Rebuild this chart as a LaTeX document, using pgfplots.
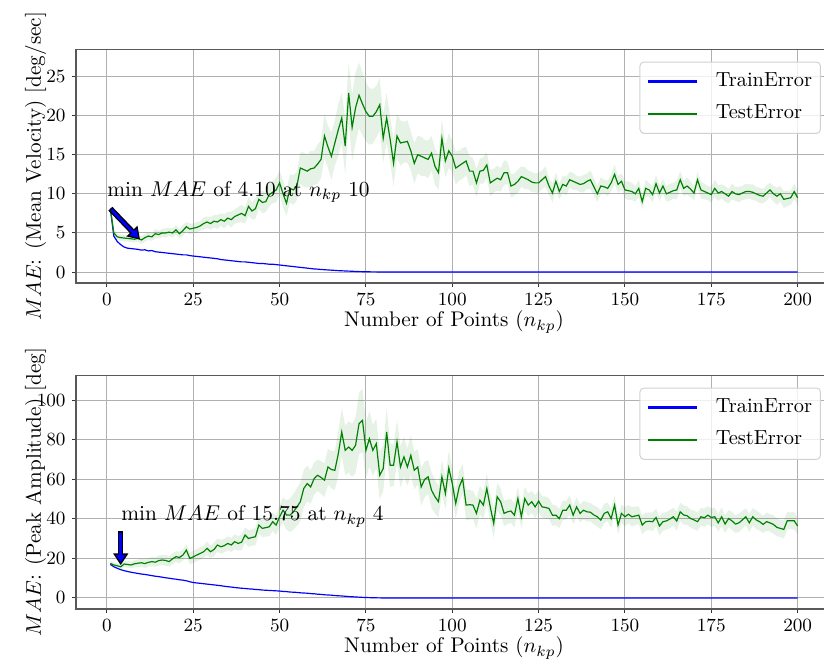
\RequirePackage{fix-cm}
\documentclass[border=0pt]{standalone}
\usepackage{pgfplots}
\pgfplotsset{compat=1.18}
\usepackage{pgfplotstable}
\usepgfplotslibrary{fillbetween}
\usetikzlibrary{arrows.meta}
\definecolor{mplgreen}{rgb}{0,0.5,0}
\definecolor{gridgray}{HTML}{B0B0B0}

\pgfplotstableread[row sep=\\]{
x R T S\\
1 8.10 8.10 0.3\\ 2 4.60 5.00 0.4\\ 3 3.90 4.50 0.4\\ 4 3.50 4.40 0.4\\ 5 3.20 4.35 0.4\\
6 3.05 4.30 0.4\\ 7 3.00 4.25 0.4\\ 8 2.95 4.20 0.4\\ 9 2.90 4.30 0.4\\ 10 2.80 4.10 0.5\\
11 2.85 4.40 0.5\\ 12 2.70 4.60 0.5\\ 13 2.75 4.50 0.5\\ 14 2.60 4.90 0.6\\ 15 2.55 4.80 0.5\\
16 2.50 5.00 0.5\\ 17 2.45 5.00 0.6\\ 18 2.40 5.10 0.5\\ 19 2.35 5.00 0.6\\ 20 2.30 5.40 0.6\\
21 2.25 4.90 0.6\\ 22 2.20 5.30 0.7\\ 23 2.20 5.80 0.6\\ 24 2.10 5.50 0.7\\ 25 2.05 5.60 0.6\\
26 2.00 5.70 0.7\\ 27 1.95 5.90 0.6\\ 28 1.90 6.20 0.8\\ 29 1.85 6.40 0.7\\ 30 1.80 6.20 0.8\\
31 1.75 6.50 0.8\\ 32 1.70 6.40 0.9\\ 33 1.60 6.70 0.8\\ 34 1.55 6.50 0.9\\ 35 1.50 6.90 0.8\\
36 1.45 6.70 1.0\\ 37 1.40 7.10 0.9\\ 38 1.35 7.30 1.0\\ 39 1.30 7.50 1.1\\ 40 1.30 7.20 1.0\\
41 1.25 8.40 1.2\\ 42 1.20 7.80 1.1\\ 43 1.15 8.10 1.3\\ 44 1.10 9.30 1.2\\ 45 1.10 8.90 1.4\\
46 1.05 9.00 1.3\\ 47 1.00 9.90 1.5\\ 48 1.00 10.20 1.4\\ 49 0.95 10.50 1.6\\ 50 0.90 11.40 1.5\\
51 0.85 10.00 1.7\\ 52 0.80 8.80 1.6\\ 53 0.75 10.70 1.8\\ 54 0.70 10.50 1.9\\ 55 0.65 11.00 1.8\\
56 0.60 13.30 2.0\\ 57 0.55 13.10 2.2\\ 58 0.50 12.90 2.1\\ 59 0.45 13.20 2.3\\ 60 0.40 13.30 2.2\\
61 0.37 13.80 2.5\\ 62 0.33 14.40 2.4\\ 63 0.30 17.40 2.8\\ 64 0.27 16.00 2.7\\ 65 0.24 14.80 3.0\\
66 0.21 16.50 2.9\\ 67 0.18 18.20 3.3\\ 68 0.16 19.70 3.2\\ 69 0.14 16.10 3.6\\ 70 0.12 22.90 3.8\\
71 0.10 18.50 4.2\\ 72 0.08 21.00 4.5\\ 73 0.06 22.60 4.2\\ 74 0.05 21.50 4.0\\ 75 0.04 20.50 3.8\\
76 0.03 19.90 3.6\\ 77 0.02 19.90 3.5\\ 78 0.02 20.50 3.3\\ 79 0.01 21.40 3.4\\ 80 0.00 17.10 3.1\\
81 0 19.70 3.2\\ 82 0 17.00 2.9\\ 83 0 13.90 3.0\\ 84 0 17.40 2.8\\ 85 0 16.50 2.9\\
86 0 16.60 2.6\\ 87 0 16.70 2.7\\ 88 0 15.50 2.5\\ 89 0 13.90 2.6\\ 90 0 15.00 2.4\\
91 0 14.80 2.5\\ 92 0 14.60 2.3\\ 93 0 14.40 2.4\\ 94 0 15.20 2.2\\ 95 0 13.50 2.3\\
96 0 12.70 2.2\\ 97 0 17.10 2.4\\ 98 0 14.20 2.1\\ 99 0 15.50 2.2\\ 100 0 14.80 2.0\\
101 0 13.30 2.1\\ 102 0 13.60 1.9\\ 103 0 13.90 2.0\\ 104 0 14.20 1.8\\ 105 0 12.90 1.9\\
106 0 12.90 1.7\\ 107 0 11.40 1.8\\ 108 0 12.90 1.6\\ 109 0 13.00 1.7\\ 110 0 13.70 1.6\\
111 0 11.40 1.7\\ 112 0 11.70 1.5\\ 113 0 12.00 1.6\\ 114 0 11.80 1.5\\ 115 0 12.70 1.6\\
116 0 12.70 1.4\\ 117 0 11.00 1.5\\ 118 0 11.20 1.4\\ 119 0 11.60 1.5\\ 120 0 12.20 1.3\\
121 0 12.00 1.4\\ 122 0 11.80 1.2\\ 123 0 11.50 1.3\\ 124 0 11.40 1.2\\ 125 0 11.40 1.3\\
126 0 11.80 1.2\\ 127 0 12.20 1.3\\ 128 0 11.00 1.1\\ 129 0 10.10 1.2\\ 130 0 11.60 1.1\\
131 0 10.30 1.0\\ 132 0 11.20 1.1\\ 133 0 11.00 1.2\\ 134 0 11.80 1.0\\ 135 0 11.60 1.1\\
136 0 11.40 0.9\\ 137 0 11.20 1.0\\ 138 0 11.30 1.1\\ 139 0 11.60 1.0\\ 140 0 11.80 1.2\\
141 0 10.90 1.1\\ 142 0 10.00 1.0\\ 143 0 11.00 1.1\\ 144 0 10.90 0.9\\ 145 0 10.70 1.0\\
146 0 11.40 1.1\\ 147 0 12.50 1.2\\ 148 0 11.20 1.1\\ 149 0 11.60 1.0\\ 150 0 10.50 1.1\\
151 0 10.40 1.2\\ 152 0 10.30 1.1\\ 153 0 10.00 1.0\\ 154 0 10.70 1.1\\ 155 0 9.00 1.0\\
156 0 10.70 1.1\\ 157 0 10.50 0.9\\ 158 0 9.90 1.0\\ 159 0 11.30 1.1\\ 160 0 10.10 1.0\\
161 0 11.00 0.9\\ 162 0 10.00 1.0\\ 163 0 10.20 1.1\\ 164 0 10.40 1.0\\ 165 0 10.50 1.2\\
166 0 11.80 1.1\\ 167 0 10.70 1.0\\ 168 0 11.00 1.1\\ 169 0 10.60 1.0\\ 170 0 10.10 0.9\\
171 0 11.80 1.0\\ 172 0 10.50 1.1\\ 173 0 10.30 1.0\\ 174 0 10.10 0.9\\ 175 0 9.90 1.0\\
176 0 10.70 1.1\\ 177 0 10.10 1.0\\ 178 0 10.30 0.9\\ 179 0 10.00 1.0\\ 180 0 9.70 0.9\\
181 0 10.30 1.0\\ 182 0 10.00 0.9\\ 183 0 9.90 1.0\\ 184 0 10.10 0.9\\ 185 0 10.30 1.0\\
186 0 10.30 0.9\\ 187 0 10.20 1.0\\ 188 0 10.00 0.9\\ 189 0 9.80 1.0\\ 190 0 9.70 0.9\\
191 0 10.10 1.0\\ 192 0 10.50 0.9\\ 193 0 10.00 1.0\\ 194 0 9.70 1.1\\ 195 0 10.00 1.0\\
196 0 9.30 1.1\\ 197 0 9.40 1.0\\ 198 0 9.50 0.9\\ 199 0 10.30 1.0\\ 200 0 9.50 0.9\\
}\topdata

\pgfplotstableread[row sep=\\]{
x R T S\\
1 17.0 17.5 1.2\\ 2 15.8 16.7 1.3\\ 3 15.0 16.3 1.4\\ 4 14.3 15.75 1.5\\ 5 13.8 17.2 1.5\\
6 13.4 16.9 1.6\\ 7 13.0 16.7 1.7\\ 8 12.7 17.3 1.8\\ 9 12.4 17.6 1.9\\ 10 12.1 17.8 2.0\\
11 11.9 17.4 2.2\\ 12 11.6 18.0 2.1\\ 13 11.3 18.4 2.4\\ 14 11.0 18.1 2.3\\ 15 10.8 18.9 2.6\\
16 10.5 19.2 2.5\\ 17 10.2 19.0 2.7\\ 18 10.0 18.4 2.6\\ 19 9.7 19.8 2.8\\ 20 9.5 20.9 2.7\\
21 9.2 20.5 2.9\\ 22 9.0 21.7 2.8\\ 23 8.7 24.2 3.0\\ 24 8.2 20.0 2.9\\ 25 7.8 20.8 3.1\\
26 7.6 21.7 3.0\\ 27 7.4 22.5 3.2\\ 28 7.2 23.4 3.1\\ 29 7.0 25.1 3.3\\ 30 6.8 23.4 3.2\\
31 6.6 24.5 3.4\\ 32 6.4 26.8 3.3\\ 33 6.2 25.9 3.5\\ 34 5.9 26.5 3.4\\ 35 5.7 27.6 3.6\\
36 5.5 26.8 3.5\\ 37 5.3 28.5 3.8\\ 38 5.1 27.6 3.7\\ 39 4.9 28.2 4.0\\ 40 4.8 31.8 3.9\\
41 4.6 30.1 4.2\\ 42 4.5 30.6 4.1\\ 43 4.3 31.0 4.4\\ 44 4.2 36.9 4.3\\ 45 4.0 35.2 4.6\\
46 3.9 35.6 4.5\\ 47 3.8 36.0 4.8\\ 48 3.7 38.6 4.7\\ 49 3.6 36.9 5.0\\ 50 3.5 41.1 5.5\\
51 3.3 44.4 6.5\\ 52 3.2 42.0 7.5\\ 53 3.0 41.9 8.5\\ 54 2.9 43.6 9.0\\ 55 2.8 46.0 9.5\\
56 2.6 48.7 9.8\\ 57 2.5 55.4 9.5\\ 58 2.4 57.9 9.0\\ 59 2.2 56.2 8.5\\ 60 2.1 60.4 8.2\\
61 1.9 62.1 8.0\\ 62 1.8 61.0 8.3\\ 63 1.6 59.6 8.5\\ 64 1.5 66.3 9.0\\ 65 1.4 65.0 9.5\\
66 1.2 64.6 10.0\\ 67 1.1 73.0 11.0\\ 68 1.0 84.0 12.0\\ 69 0.85 74.7 12.5\\ 70 0.7 76.4 13.0\\
71 0.6 74.7 13.5\\ 72 0.5 77.3 14.0\\ 73 0.4 88.2 15.5\\ 74 0.3 89.9 16.0\\ 75 0.22 74.7 14.5\\
76 0.16 80.6 14.0\\ 77 0.1 74.7 13.0\\ 78 0.06 78.1 12.5\\ 79 0.03 62.1 12.0\\ 80 0 65.5 11.5\\
81 0 84.0 12.0\\ 82 0 67.2 11.0\\ 83 0 67.2 10.5\\ 84 0 79.0 11.0\\ 85 0 66.3 10.5\\
86 0 71.4 10.0\\ 87 0 66.3 9.5\\ 88 0 72.2 10.0\\ 89 0 64.6 9.5\\ 90 0 66.3 9.0\\
91 0 56.2 9.5\\ 92 0 60.0 9.0\\ 93 0 61.3 8.5\\ 94 0 54.5 9.0\\ 95 0 51.2 8.5\\
96 0 48.7 8.0\\ 97 0 61.3 8.5\\ 98 0 52.9 8.0\\ 99 0 65.8 8.5\\ 100 0 57.9 8.0\\
101 0 47.8 7.5\\ 102 0 56.2 8.0\\ 103 0 60.4 7.5\\ 104 0 47.0 7.8\\ 105 0 47.2 7.5\\
106 0 47.0 7.2\\ 107 0 42.8 7.5\\ 108 0 49.5 7.2\\ 109 0 47.0 7.0\\ 110 0 55.4 7.5\\
111 0 46.0 7.2\\ 112 0 37.7 7.5\\ 113 0 51.2 7.0\\ 114 0 48.7 6.8\\ 115 0 42.8 6.5\\
116 0 43.6 6.2\\ 117 0 44.0 6.0\\ 118 0 41.9 6.2\\ 119 0 50.3 6.0\\ 120 0 41.1 5.8\\
121 0 50.3 6.0\\ 122 0 47.0 5.8\\ 123 0 48.7 5.6\\ 124 0 46.1 5.8\\ 125 0 49.0 5.5\\
126 0 46.1 5.4\\ 127 0 45.8 5.6\\ 128 0 45.3 5.2\\ 129 0 41.9 5.4\\ 130 0 41.9 5.0\\
131 0 40.2 4.8\\ 132 0 44.4 5.0\\ 133 0 44.4 4.7\\ 134 0 47.0 4.9\\ 135 0 41.9 4.6\\
136 0 46.1 4.8\\ 137 0 42.8 4.5\\ 138 0 44.4 4.7\\ 139 0 43.6 4.9\\ 140 0 43.4 4.6\\
141 0 42.0 4.8\\ 142 0 41.1 5.0\\ 143 0 39.4 4.7\\ 144 0 42.8 4.9\\ 145 0 43.6 4.6\\
146 0 40.2 4.8\\ 147 0 47.0 5.0\\ 148 0 36.9 4.7\\ 149 0 42.8 4.5\\ 150 0 41.1 4.8\\
151 0 42.4 4.6\\ 152 0 41.1 4.9\\ 153 0 41.5 4.7\\ 154 0 41.9 4.5\\ 155 0 36.9 4.8\\
156 0 38.6 4.6\\ 157 0 38.8 4.4\\ 158 0 38.6 4.7\\ 159 0 40.7 4.5\\ 160 0 36.4 4.8\\
161 0 38.6 4.6\\ 162 0 39.0 4.4\\ 163 0 39.9 4.7\\ 164 0 41.1 4.5\\ 165 0 38.9 4.8\\
166 0 43.6 4.6\\ 167 0 42.0 4.9\\ 168 0 41.6 4.7\\ 169 0 40.2 4.5\\ 170 0 39.5 4.8\\
171 0 38.6 4.6\\ 172 0 41.1 4.4\\ 173 0 40.6 4.7\\ 174 0 41.9 4.5\\ 175 0 40.7 4.8\\
176 0 41.1 4.6\\ 177 0 38.0 4.4\\ 178 0 41.1 4.7\\ 179 0 37.4 4.5\\ 180 0 40.2 4.3\\
181 0 39.0 4.6\\ 182 0 37.4 4.4\\ 183 0 38.0 4.7\\ 184 0 39.5 4.5\\ 185 0 41.1 4.3\\
186 0 38.0 4.6\\ 187 0 41.1 4.4\\ 188 0 39.5 4.7\\ 189 0 38.6 4.5\\ 190 0 37.2 4.3\\
191 0 38.6 4.6\\ 192 0 38.0 4.4\\ 193 0 37.2 4.7\\ 194 0 35.7 4.5\\ 195 0 35.2 4.3\\
196 0 34.7 4.6\\ 197 0 39.1 4.4\\ 198 0 39.1 4.2\\ 199 0 39.1 4.5\\ 200 0 36.4 4.3\\
}\botdata

\pgfplotsset{
  mplaxis/.style={
    scale only axis, width=383.75bp, height=118.53bp,
    anchor=south west,
    xmin=-8.95, xmax=209.95,
    xtick={0,25,...,200},
    grid=major,
    major grid style={gridgray, line width=0.55bp},
    axis line style={black!65, line width=0.6bp},
    tick align=outside, xtick pos=bottom, ytick pos=left,
    major tick length=1.8bp,
    tick style={black!80, line width=0.5bp},
    tick label style={font=\fontsize{9.5}{11}\selectfont},
    every axis x label/.style={at={(axis description cs:0.5,0)}, anchor=base, yshift=-22.3bp, font=\fontsize{10.8}{13}\selectfont},
    every axis y label/.style={at={(axis description cs:-0.0464,0.5)}, rotate=90, anchor=base, font=\fontsize{10.8}{13}\selectfont},
    xlabel={Number of Points ($n_{kp}$)},
    legend cell align=left,
    legend style={at={(axis description cs:1,1)}, anchor=north east,
      xshift=-5.6bp, yshift=-6.1bp, font=\fontsize{10.4}{12}\selectfont,
      draw=black!18, line width=0.5bp, fill=white, fill opacity=0.8, text opacity=1,
      rounded corners=2bp, inner xsep=4.2bp, inner ysep=5bp, row sep=7bp,
      nodes={inner sep=0pt, text height=7.3bp, text depth=2.3bp},
      /tikz/every odd column/.append style={column sep=9.8bp}},
  }
}

\begin{document}
\begin{tikzpicture}
% ---------- top ----------
\begin{axis}[mplaxis, at={(38.58bp,190.86bp)},
  ymin=-1.4, ymax=28.45, ytick={0,5,...,25},
  ylabel={$MAE$: (Mean Velocity) [deg/sec]}]
\addlegendimage{legend image code/.code={\fill[blue, fill opacity=1, sharp corners] (0bp,-0.35bp) rectangle (24bp,0.35bp);}}
\addlegendentry{TrainError}
\addlegendimage{legend image code/.code={\fill[mplgreen, fill opacity=1, sharp corners] (0bp,-0.35bp) rectangle (24bp,0.35bp);}}
\addlegendentry{TestError}
\addplot[draw=none, name path=tu, forget plot] table[x=x, y expr=\thisrow{T}+\thisrow{S}] {\topdata};
\addplot[draw=none, name path=tl, forget plot] table[x=x, y expr=\thisrow{T}-\thisrow{S}] {\topdata};
\addplot[fill=mplgreen, fill opacity=0.1, draw=none, forget plot] fill between[of=tu and tl];
\addplot[blue, line width=0.6bp, forget plot] table[x=x, y=R] {\topdata};
\addplot[mplgreen, line width=0.6bp, forget plot] table[x=x, y=T] {\topdata};
\node[anchor=base west, inner sep=0pt, font=\fontsize{10.9}{13}\selectfont] at (axis cs:0,9.65) {min $MAE$ of 4.10 at $n_{kp}$ 10};
\draw[black, line width=2.8bp, -{Triangle[length=6bp, width=7.4bp]}] (axis cs:1,8.1) -- (axis cs:9.6,4.15);
\draw[blue, line width=1.4bp, shorten >=1.35bp, shorten <=0.7bp, -{Triangle[length=3.8bp, width=4.8bp]}] (axis cs:1,8.1) -- (axis cs:9.6,4.15);
\end{axis}
% ---------- bottom ----------
\begin{axis}[mplaxis, at={(38.58bp,25.38bp)},
  ymin=-5.6, ymax=112.6, ytick={0,20,...,100},
  ylabel={$MAE$: (Peak Amplitude) [deg]}]
\addlegendimage{legend image code/.code={\fill[blue, fill opacity=1, sharp corners] (0bp,-0.35bp) rectangle (24bp,0.35bp);}}
\addlegendentry{TrainError}
\addlegendimage{legend image code/.code={\fill[mplgreen, fill opacity=1, sharp corners] (0bp,-0.35bp) rectangle (24bp,0.35bp);}}
\addlegendentry{TestError}
\addplot[draw=none, name path=bu, forget plot] table[x=x, y expr=\thisrow{T}+\thisrow{S}] {\botdata};
\addplot[draw=none, name path=bl, forget plot] table[x=x, y expr=\thisrow{T}-\thisrow{S}] {\botdata};
\addplot[fill=mplgreen, fill opacity=0.1, draw=none, forget plot] fill between[of=bu and bl];
\addplot[blue, line width=0.6bp, forget plot] table[x=x, y=R] {\botdata};
\addplot[mplgreen, line width=0.6bp, forget plot] table[x=x, y=T] {\botdata};
\node[anchor=base west, inner sep=0pt, font=\fontsize{10.9}{13}\selectfont] at (axis cs:4.05,39.0) {min $MAE$ of 15.75 at $n_{kp}$ 4};
\draw[black, line width=2.8bp, -{Triangle[length=6bp, width=7.4bp]}] (axis cs:4,33.8) -- (axis cs:4,16.6);
\draw[blue, line width=1.4bp, shorten >=1.35bp, shorten <=0.7bp, -{Triangle[length=3.8bp, width=4.8bp]}] (axis cs:4,33.8) -- (axis cs:4,16.6);
\end{axis}
\pgfresetboundingbox
\useasboundingbox (0,0) rectangle (418.27bp,334.52bp);
\end{tikzpicture}
\end{document}
